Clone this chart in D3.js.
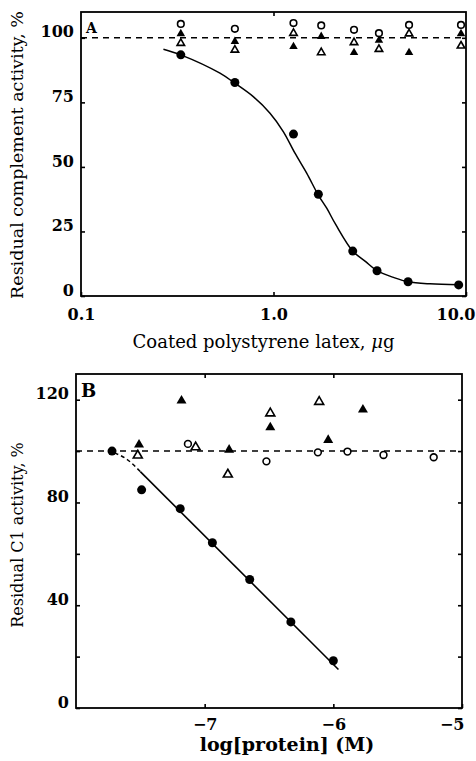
<!DOCTYPE html>
<html>
<head>
<meta charset="utf-8">
<script src="https://cdn.jsdelivr.net/npm/d3@7/dist/d3.min.js"></script>
<style>
  html, body { margin: 0; padding: 0; background: #fff; }
  svg { display: block; }
  text { font-family: "DejaVu Serif", serif; fill: #000; }
</style>
</head>
<body>
<svg id="chart" width="476" height="761"></svg>
<script>
// ---- panel A: coated polystyrene latex (ug) vs residual complement activity (%)
var latexDose   = [0.33, 0.63, 1.27, 1.71, 2.58, 3.45, 5.0, 9.16];
var activeLatex = [93.4, 82.7, 62.7, 39.4, 17.4, 9.8, 5.5, 4.3];       // filled circles
var ctrlDoseA   = [0.33, 0.63, 1.27, 1.77, 2.62, 3.53, 5.06, 9.42];
var ctrlCircA   = [105.4, 103.5, 105.7, 104.8, 103.1, 101.8, 105, 105]; // open circles
var ctrlFTriA   = [101.6, 98.6, 96.6, 100.5, 94.3, 99.0, 94.3, 101.6];  // filled triangles
var ctrlOTriA   = [97.9, 95.3, 101.8, 94.3, 98.2, 95.6, 101.6, 96.9];   // open triangles
// fitted curve
var fitDoseA = [0.268, 0.33, 0.527, 0.63, 0.785, 0.959, 1.124, 1.293, 1.487, 1.709, 1.89, 2.1, 2.58, 3.0, 3.45, 4.2, 5.0, 6.5, 9.16];
var fitActA  = [95.6, 93.4, 86.3, 82.4, 77.2, 70.8, 63.7, 55.3, 47.6, 39.1, 34.0, 27.8, 17.4, 13.4, 9.8, 7.2, 5.5, 4.7, 4.4];
var xTicksA = [0.1, 1, 10];
var xLabelsA = ["0.1", "1.0", "10.0"];
var yTicksA = [0, 25, 50, 75, 100];

// ---- panel B: log[protein] (M) vs residual C1 activity (%)
var logProtB = [-7.72, -7.49, -7.19, -6.94, -6.65, -6.33, -6.0];
var c1ActB   = [100, 84.9, 77.6, 64.3, 50.0, 33.5, 18.4];
var circXB = [-7.13, -6.52, -6.12, -5.89, -5.61, -5.22];
var circYB = [102.8, 96.0, 99.5, 99.8, 98.5, 97.6];
var oTriXB = [-7.52, -7.07, -6.82, -6.49, -6.11];
var oTriYB = [98.3, 101.5, 90.9, 114.7, 119.2];
var fTriXB = [-7.51, -7.18, -6.81, -6.49, -6.04, -5.77];
var fTriYB = [102.5, 119.6, 100.5, 109.2, 104.3, 116.1];
var regXB = [-7.5, -5.96], regYB = [92.0, 15.0];
var dashXB = [-7.70, -7.61, -7.5], dashYB = [99.3, 97.0, 92.0];
var xTicksB = [-7, -6, -5];
var yTicksB = [0, 20, 40, 60, 80, 100, 120];

var svg = d3.select("#chart");

function triangle(side) { return d3.symbol(d3.symbolTriangle, side * side * Math.sqrt(3) / 4)(); }

function markers(g, xs, ys, x, y, kind, sz) {
    var p;
    if (kind === "fcirc" || kind === "ocirc") {
        p = g.selectAll(null).data(xs).enter().append("circle")
            .attr("cx", function(d) { return x(d); })
            .attr("cy", function(d, i) { return y(ys[i]); })
            .attr("r", sz);
    } else {
        p = g.selectAll(null).data(xs).enter().append("path")
            .attr("d", triangle(sz))
            .attr("transform", function(d, i) { return "translate(" + x(d) + "," + y(ys[i]) + ")"; });
    }
    if (kind[0] === "f") p.attr("fill", "#000");
    else p.attr("fill", "#fff").attr("stroke", "#000").attr("stroke-width", 1.6);
}

function frame(p, x, y, o) {
    var g = svg.append("g");
    // inward ticks on all four sides
    var ax = [
        [d3.axisLeft(y).tickValues(o.yTicks).tickSize(-4).tickPadding(7).tickFormat(o.yFmt), "translate(" + p.l + ",0)"],
        [d3.axisRight(y).tickValues(o.yTicks).tickSize(-4).tickFormat(""), "translate(" + p.r + ",0)"],
        [d3.axisTop(x).tickValues(o.topTicks).tickSize(-4).tickFormat(""), "translate(0," + p.t + ")"],
        [d3.axisBottom(x).tickValues(o.xTicks).tickSize(-4).tickPadding(o.xPad).tickFormat(o.xFmt), "translate(0," + p.b + ")"]
    ];
    ax.forEach(function(a, i) {
        var s = g.append("g").attr("transform", a[1]).call(a[0]);
        s.select(".domain").remove();
        s.selectAll("line").attr("stroke", "#000").attr("stroke-width", 1.6);
        s.selectAll("text").attr("font-family", "DejaVu Serif").attr("font-size", 16)
            .attr("font-weight", "bold").attr("fill", "#000");
        if (i === 0) s.selectAll("text").attr("y", -6);
        if (i === 3) {
            s.selectAll("text").attr("dy", "0.71em").each(function() {
                var w = this.getComputedTextLength();
                var tx = x(d3.select(this).datum()) + w / 2;
                if (tx > o.xMaxRight) d3.select(this).attr("x", o.xMaxRight - tx);
            });
        }
    });
    g.append("rect").attr("x", p.l).attr("y", p.t).attr("width", p.r - p.l).attr("height", p.b - p.t)
        .attr("fill", "none").attr("stroke", "#000").attr("stroke-width", 1.8);
    // reference line at 100 %
    g.append("line").attr("x1", p.l).attr("x2", p.r).attr("y1", y(100)).attr("y2", y(100))
        .attr("stroke", "#000").attr("stroke-width", 1.5).attr("stroke-dasharray", "6,5");
    g.append("text").attr("x", p.l + 5).attr("y", p.t + o.tagDy).attr("font-size", o.tagSize)
        .attr("font-weight", "bold").text(o.tag);
    var xt = svg.append("text").attr("x", (p.l + p.r) / 2 + o.xtOff).attr("y", o.xtY)
        .attr("text-anchor", "middle").attr("font-size", o.xtSize).attr("font-weight", o.xtWeight);
    o.xTitle.forEach(function(part) {
        xt.append("tspan").attr("font-style", part[1] ? "italic" : "normal").text(part[0]);
    });
    svg.append("text").attr("transform", "translate(" + o.ytX + "," + o.ytY + ") rotate(-90)")
        .attr("text-anchor", "middle").attr("font-size", o.ytSize).text(o.yTitle);
}

// ---------- panel A
var pA = { l: 81, r: 466, t: 12, b: 296 };
var xA = d3.scaleLog().domain([0.1, 10]).range([pA.l, pA.r]);
var yA = d3.scaleLinear().domain([0, 110]).range([pA.b, pA.t]);

frame(pA, xA, yA, {
    yTicks: yTicksA, yFmt: d3.format("d"),
    xTicks: xTicksA, xFmt: function(d, i) { return xLabelsA[i]; }, xPad: 13, xMaxRight: 475,
    topTicks: [1],
    tag: "A", tagSize: 14, tagDy: 21,
    xTitle: [["Coated polystyrene latex, ", false], ["\u03bc", true], ["g", false]],
    xtY: 348, xtOff: -10, xtSize: 18, xtWeight: "normal",
    yTitle: "Residual complement activity, %", ytX: 23, ytY: 155, ytSize: 17.5
});

var gA = svg.append("g");
gA.append("path")
    .attr("d", d3.line().curve(d3.curveCatmullRom)
        .x(function(d) { return xA(d); })
        .y(function(d, i) { return yA(fitActA[i]); })(fitDoseA))
    .attr("fill", "none").attr("stroke", "#000").attr("stroke-width", 1.5);
markers(gA, latexDose, activeLatex, xA, yA, "fcirc", 4.5);
markers(gA, ctrlDoseA, ctrlCircA, xA, yA, "ocirc", 3.3);
markers(gA, ctrlDoseA, ctrlOTriA, xA, yA, "otri", 7.5);
markers(gA, ctrlDoseA, ctrlFTriA, xA, yA, "ftri", 8.5);

// ---------- panel B
var pB = { l: 76, r: 462, t: 374, b: 708 };
var xB = d3.scaleLinear().domain([-8, -5]).range([pB.l, pB.r]);
var yB = d3.scaleLinear().domain([0, 130]).range([pB.b, pB.t]);

frame(pB, xB, yB, {
    yTicks: yTicksB, yFmt: function(d) { return d % 40 === 0 ? d : ""; },
    xTicks: xTicksB, xFmt: function(d) { return "\u2212" + Math.abs(d); }, xPad: 11, xMaxRight: 464,
    topTicks: [-7, -6],
    tag: "B", tagSize: 18, tagDy: 23,
    xTitle: [["log[protein] (M)", false]], xtY: 751, xtOff: 18, xtSize: 19, xtWeight: "bold",
    yTitle: "Residual C1 activity, %", ytX: 23, ytY: 535, ytSize: 16
});

var gB = svg.append("g");
var lineB = d3.line().curve(d3.curveMonotoneX);
gB.append("path")
    .attr("d", lineB(dashXB.map(function(d, i) { return [xB(d), yB(dashYB[i])]; })))
    .attr("fill", "none").attr("stroke", "#000").attr("stroke-width", 1.5).attr("stroke-dasharray", "4,3");
gB.append("path")
    .attr("d", lineB(regXB.map(function(d, i) { return [xB(d), yB(regYB[i])]; })))
    .attr("fill", "none").attr("stroke", "#000").attr("stroke-width", 1.6);
markers(gB, logProtB, c1ActB, xB, yB, "fcirc", 4.5);
markers(gB, circXB, circYB, xB, yB, "ocirc", 3.4);
markers(gB, oTriXB, oTriYB, xB, yB, "otri", 9);
markers(gB, fTriXB, fTriYB, xB, yB, "ftri", 10);
</script>
</body>
</html>
